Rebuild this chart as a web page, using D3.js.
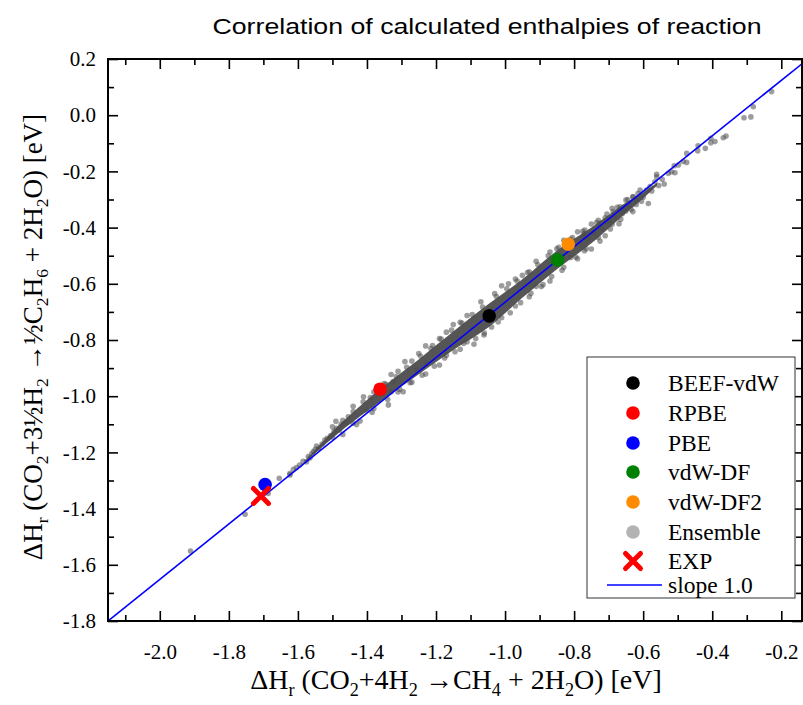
<!DOCTYPE html>
<html>
<head>
<meta charset="UTF-8">
<title>Correlation of calculated enthalpies of reaction</title>
<script src="https://cdn.jsdelivr.net/npm/d3@7/dist/d3.min.js"></script>
<style>
  body { margin: 0; background: #fff; }
  svg { display: block; }
  .tick text { font-family: "Liberation Serif", "Times New Roman", serif; font-size: 21px; fill: #000; }
  .tick line { stroke: #000; stroke-width: 1.6; }
</style>
</head>
<body>
<svg id="chart" width="803" height="705"></svg>
<script>
// axis ticks
const xMajor = [-2.0, -1.8, -1.6, -1.4, -1.2, -1.0, -0.8, -0.6, -0.4, -0.2];
const xMinor = [-2.1, -1.9, -1.7, -1.5, -1.3, -1.1, -0.9, -0.7, -0.5, -0.3];
const yMajor = [0.2, 0.0, -0.2, -0.4, -0.6, -0.8, -1.0, -1.2, -1.4, -1.6, -1.8];
const yMinor = [0.1, -0.1, -0.3, -0.5, -0.7, -0.9, -1.1, -1.3, -1.5, -1.7];

// functionals
const methods = ['BEEF-vdW', 'RPBE', 'PBE', 'vdW-DF', 'vdW-DF2'];
const methodX = [-1.046, -1.362, -1.695, -0.848, -0.817];
const methodY = [-0.714, -0.975, -1.314, -0.515, -0.459];
const methodColors = ['#000000', '#ff0000', '#0000ff', '#008000', '#ff8c00'];

// experiment
const expX = [-1.707];
const expY = [-1.355];

// slope 1.0 line
const lineX = [-2.15, -0.14];
const lineY = [-1.800, 0.183];

// dense core of the ensemble (lower / upper edge)
const coreX  = [-1.58, -1.50, -1.45, -1.36, -1.25, -1.15, -1.048, -0.95, -0.85, -0.75, -0.65, -0.60, -0.56];
const coreLo = [-1.236, -1.150, -1.100, -1.018, -0.922, -0.836, -0.755, -0.650, -0.548, -0.456, -0.348, -0.296, -0.250];
const coreHi = [-1.232, -1.126, -1.068, -0.973, -0.869, -0.770, -0.672, -0.584, -0.482, -0.400, -0.311, -0.274, -0.241];

// ensemble points (scatter around the core and the tails)
const ensemble = [
  [-1.911, -1.551], [-1.753, -1.420], [-1.686, -1.346], [-1.654, -1.292], [-1.623, -1.274],
  [-1.623, -1.280], [-1.613, -1.260], [-1.604, -1.254], [-1.575, -1.233], [-1.570, -1.215],
  [-1.555, -1.197], [-1.546, -1.177], [-1.560, -1.205], [-1.530, -1.170], [-1.522, -1.156],
  [-1.595, -1.245], [-1.585, -1.232], [-1.565, -1.220], [-1.550, -1.190], [-1.540, -1.185],
  [-1.515, -1.150], [-1.505, -1.140], [-1.495, -1.125], [-1.480, -1.120], [-1.475, -1.100],
  [-1.460, -1.092],
  [-1.488, -1.114], [-1.50, -1.109], [-1.50, -1.145], [-1.49, -1.089], [-1.47, -1.136],
  [-1.47, -1.086], [-1.454, -1.073], [-1.44, -1.036], [-1.44, -1.096], [-1.43, -1.101],
  [-1.411, -1.020], [-1.41, -1.002], [-1.40, -1.049], [-1.38, -0.985], [-1.38, -1.044],
  [-1.37, -0.994], [-1.35, -0.955], [-1.338, -1.031], [-1.33, -0.923], [-1.33, -0.984],
  [-1.324, -0.948], [-1.31, -0.911], [-1.31, -0.985], [-1.295, -0.984], [-1.29, -0.877],
  [-1.27, -0.950], [-1.27, -0.875], [-1.256, -0.907], [-1.25, -0.848], [-1.23, -0.921],
  [-1.23, -0.821], [-1.227, -0.883], [-1.21, -0.820], [-1.19, -0.889], [-1.19, -0.795],
  [-1.17, -0.772], [-1.17, -0.854], [-1.15, -0.745], [-1.13, -0.833], [-1.13, -0.737],
  [-1.11, -0.713], [-1.11, -0.806], [-1.09, -0.815], [-1.07, -0.664], [-1.061, -0.782],
  [-1.039, -0.754], [-1.03, -0.635], [-1.01, -0.607], [-1.01, -0.721], [-0.99, -0.600],
  [-0.97, -0.679], [-0.97, -0.583], [-0.95, -0.570], [-0.93, -0.646], [-0.93, -0.557],
  [-0.91, -0.520], [-0.91, -0.609], [-0.89, -0.603], [-0.87, -0.487], [-0.87, -0.590],
  [-0.85, -0.475], [-0.83, -0.541], [-0.83, -0.445], [-0.81, -0.506], [-0.81, -0.442],
  [-0.79, -0.415], [-0.79, -0.511], [-0.77, -0.482], [-0.77, -0.421], [-0.75, -0.387],
  [-0.75, -0.476], [-0.73, -0.435], [-0.73, -0.374], [-0.71, -0.429], [-0.71, -0.365],
  [-0.69, -0.331], [-0.69, -0.388], [-0.67, -0.386], [-0.65, -0.302], [-0.65, -0.341],
  [-0.63, -0.343], [-0.63, -0.290],
  [-1.44, -1.055], [-1.42, -1.088], [-1.39, -1.005], [-1.385, -1.057], [-1.345, -0.958],
  [-1.34, -1.012], [-1.315, -0.930], [-1.305, -0.975], [-1.285, -0.897], [-1.275, -0.952],
  [-1.245, -0.857], [-1.24, -0.925], [-1.215, -0.830], [-1.205, -0.893], [-1.185, -0.797],
  [-1.175, -0.864], [-1.155, -0.765], [-1.145, -0.842], [-1.125, -0.740], [-1.12, -0.812],
  [-1.095, -0.709], [-1.085, -0.795], [-1.065, -0.683], [-1.06, -0.775], [-1.025, -0.645],
  [-1.02, -0.736], [-0.995, -0.618], [-0.985, -0.703], [-0.965, -0.590], [-0.955, -0.667],
  [-0.935, -0.560], [-0.925, -0.634], [-0.905, -0.532], [-0.895, -0.610], [-0.875, -0.500],
  [-0.865, -0.574], [-0.845, -0.470], [-0.835, -0.552], [-0.805, -0.435], [-0.795, -0.505],
  [-0.775, -0.413], [-0.765, -0.475], [-0.735, -0.382], [-0.725, -0.448], [-0.705, -0.352],
  [-0.695, -0.405], [-0.675, -0.328], [-0.665, -0.370], [-0.645, -0.300], [-0.635, -0.335],
  [-0.615, -0.279], [-0.605, -0.306],
  [-0.774, -0.432], [-0.769, -0.409], [-0.740, -0.415], [-0.725, -0.385], [-0.696, -0.373],
  [-0.687, -0.343], [-0.667, -0.326], [-0.658, -0.337], [-0.629, -0.290], [-0.619, -0.302],
  [-0.609, -0.266], [-0.590, -0.266], [-0.585, -0.314], [-0.580, -0.254], [-0.566, -0.237],
  [-0.561, -0.219], [-0.539, -0.245], [-0.561, -0.210], [-0.527, -0.207], [-0.518, -0.201],
  [-0.508, -0.205], [-0.510, -0.180], [-0.498, -0.177], [-0.484, -0.165], [-0.474, -0.168],
  [-0.474, -0.136], [-0.442, -0.127], [-0.441, -0.109], [-0.420, -0.118], [-0.404, -0.098],
  [-0.404, -0.082], [-0.392, -0.094], [-0.368, -0.080], [-0.360, -0.074], [-0.308, -0.009],
  [-0.288, -0.006], [-0.281, 0.030], [-0.228, 0.084],
  [-0.760, -0.440], [-0.745, -0.420], [-0.720, -0.405], [-0.705, -0.380], [-0.680, -0.365],
  [-0.660, -0.350], [-0.640, -0.322], [-0.620, -0.318], [-0.600, -0.292], [-0.575, -0.270],
  [-0.555, -0.250], [-0.545, -0.228]
];

// legend
const legendLabels = ['BEEF-vdW', 'RPBE', 'PBE', 'vdW-DF', 'vdW-DF2', 'Ensemble', 'EXP', 'slope 1.0'];
const legendKinds  = ['dot', 'dot', 'dot', 'dot', 'dot', 'dot', 'cross', 'line'];
const legendColors = ['#000000', '#ff0000', '#0000ff', '#008000', '#ff8c00', '#b3b3b3', '#ff0000', '#0000ff'];

const svg = d3.select('#chart');
const plot = { left: 108, right: 802, top: 59, bottom: 621 };
const serif = '"Liberation Serif", "Times New Roman", serif';

const x = d3.scaleLinear().domain([-2.15, -0.14]).range([plot.left, plot.right]);
const y = d3.scaleLinear().domain([-1.8, 0.2]).range([plot.bottom, plot.top]);
const fmt = d => d.toFixed(1);

// title
svg.append('text')
  .attr('x', 487).attr('y', 34)
  .attr('text-anchor', 'middle')
  .attr('font-family', '"Liberation Sans", Arial, sans-serif')
  .attr('font-size', 22.5)
  .attr('textLength', 549)
  .attr('lengthAdjust', 'spacingAndGlyphs')
  .text('Correlation of calculated enthalpies of reaction');

svg.append('defs').append('clipPath').attr('id', 'clip')
  .append('rect')
  .attr('x', plot.left).attr('y', plot.top)
  .attr('width', plot.right - plot.left).attr('height', plot.bottom - plot.top);

const g = svg.append('g').attr('clip-path', 'url(#clip)');

// ensemble core + points
const area = d3.area()
  .x((d, i) => x(coreX[i]))
  .y0((d, i) => y(coreLo[i]))
  .y1((d, i) => y(coreHi[i]))
  .curve(d3.curveCatmullRom);
g.append('path')
  .datum(coreX)
  .attr('d', area)
  .attr('fill', '#555');

g.append('g').selectAll('circle')
  .data(ensemble)
  .enter().append('circle')
  .attr('cx', d => x(d[0]))
  .attr('cy', d => y(d[1]))
  .attr('r', 2.8)
  .attr('fill', '#4d4d4d')
  .attr('fill-opacity', 0.55);

// slope line
g.append('path')
  .datum(lineX.map((v, i) => [v, lineY[i]]))
  .attr('d', d3.line().x(d => x(d[0])).y(d => y(d[1])))
  .attr('stroke', '#0000ff')
  .attr('stroke-width', 1.6)
  .attr('fill', 'none');

// functionals
g.append('g').selectAll('circle')
  .data(methods)
  .enter().append('circle')
  .attr('cx', (d, i) => x(methodX[i]))
  .attr('cy', (d, i) => y(methodY[i]))
  .attr('r', 6.8)
  .attr('fill', (d, i) => methodColors[i]);

function cross(sel, cx, cy, h) {
  sel.append('path')
    .attr('d', `M${cx - h},${cy - h}L${cx + h},${cy + h}M${cx - h},${cy + h}L${cx + h},${cy - h}`)
    .attr('stroke', '#ff0000')
    .attr('stroke-width', 5)
    .attr('stroke-linecap', 'round')
    .attr('fill', 'none');
}
expX.forEach((v, i) => cross(g, x(v), y(expY[i]), 7.5));

// axes: ticks inward on all four sides
function styleAxis(sel) {
  sel.select('.domain').remove();
}
svg.append('g').attr('transform', `translate(0,${plot.bottom})`)
  .call(d3.axisBottom(x).tickValues(xMajor).tickSizeInner(-10).tickSizeOuter(0).tickPadding(23).tickFormat(fmt))
  .call(styleAxis);
svg.append('g').attr('transform', `translate(0,${plot.bottom})`)
  .call(d3.axisBottom(x).tickValues(xMinor).tickSizeInner(-6).tickSizeOuter(0).tickFormat(''))
  .call(styleAxis);
svg.append('g').attr('transform', `translate(0,${plot.top})`)
  .call(d3.axisTop(x).tickValues(xMajor).tickSizeInner(-10).tickSizeOuter(0).tickFormat(''))
  .call(styleAxis);
svg.append('g').attr('transform', `translate(0,${plot.top})`)
  .call(d3.axisTop(x).tickValues(xMinor).tickSizeInner(-6).tickSizeOuter(0).tickFormat(''))
  .call(styleAxis);

svg.append('g').attr('transform', `translate(${plot.left},0)`)
  .call(d3.axisLeft(y).tickValues(yMajor).tickSizeInner(-10).tickSizeOuter(0).tickPadding(12).tickFormat(fmt))
  .call(styleAxis);
svg.append('g').attr('transform', `translate(${plot.left},0)`)
  .call(d3.axisLeft(y).tickValues(yMinor).tickSizeInner(-6).tickSizeOuter(0).tickFormat(''))
  .call(styleAxis);
svg.append('g').attr('transform', `translate(${plot.right},0)`)
  .call(d3.axisRight(y).tickValues(yMajor).tickSizeInner(-10).tickSizeOuter(0).tickFormat(''))
  .call(styleAxis);
svg.append('g').attr('transform', `translate(${plot.right},0)`)
  .call(d3.axisRight(y).tickValues(yMinor).tickSizeInner(-6).tickSizeOuter(0).tickFormat(''))
  .call(styleAxis);

// frame
svg.append('rect')
  .attr('x', plot.left).attr('y', plot.top)
  .attr('width', plot.right - plot.left).attr('height', plot.bottom - plot.top)
  .attr('fill', 'none').attr('stroke', '#000').attr('stroke-width', 2);

// axis titles with subscripts
function richText(sel, parts, size) {
  let shift = 0;
  parts.forEach(([t, sub]) => {
    const target = sub ? 0.24 * size : 0;
    sel.append('tspan')
      .attr('font-size', sub ? size * 0.65 : size)
      .attr('dy', target - shift)
      .text(t);
    shift = target;
  });
}

const xTitle = svg.append('text')
  .attr('x', 456).attr('y', 689)
  .attr('text-anchor', 'middle')
  .attr('font-family', serif);
richText(xTitle, [['ΔH'], ['r', 1], [' (CO'], ['2', 1], ['+4H'], ['2', 1], [' →CH'], ['4', 1],
  [' + 2H'], ['2', 1], ['O) [eV]']], 28);

const yTitle = svg.append('text')
  .attr('transform', 'translate(42,337) rotate(-90)')
  .attr('text-anchor', 'middle')
  .attr('font-family', serif);
richText(yTitle, [['ΔH'], ['r', 1], [' (CO'], ['2', 1], ['+3½H'], ['2', 1], [' →½C'], ['2', 1],
  ['H'], ['6', 1], [' + 2H'], ['2', 1], ['O) [eV]']], 27);

// legend
const leg = svg.append('g');
leg.append('rect')
  .attr('x', 587).attr('y', 357).attr('width', 208).attr('height', 241)
  .attr('fill', '#fff').attr('stroke', '#333').attr('stroke-width', 1);
const rowY = [383, 413, 443, 472, 502, 532, 561, 585];
legendLabels.forEach((label, i) => {
  const cy = rowY[i];
  if (legendKinds[i] === 'dot') {
    leg.append('circle').attr('cx', 633).attr('cy', cy).attr('r', 6.8).attr('fill', legendColors[i]);
  } else if (legendKinds[i] === 'cross') {
    cross(leg, 633, cy, 7.5);
  } else {
    leg.append('line').attr('x1', 607).attr('x2', 662).attr('y1', cy).attr('y2', cy)
      .attr('stroke', legendColors[i]).attr('stroke-width', 1.6);
  }
  leg.append('text')
    .attr('x', 668).attr('y', cy).attr('dy', '0.35em')
    .attr('font-family', serif).attr('font-size', 23.5)
    .text(label);
});
</script>
</body>
</html>
